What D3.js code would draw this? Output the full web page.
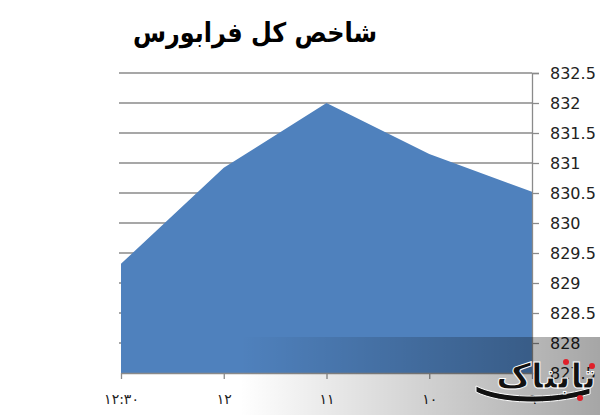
<!DOCTYPE html>
<html><head><meta charset="utf-8">
<script src="https://cdn.jsdelivr.net/npm/d3@7"></script>
<style>body{margin:0;background:#fff}svg{display:block}</style>
</head><body>
<svg id="c" width="600" height="415"></svg>
<script>
const categories = ["۹", "۱۰", "۱۱", "۱۲", "۱۲:۳۰"];
const values = [830.52, 831.15, 832.0, 830.92, 829.32];
const yTicks = [827.5, 828, 828.5, 829, 829.5, 830, 830.5, 831, 831.5, 832, 832.5];
const title = "شاخص کل فرابورس";

const svg = d3.select("#c");
const x = d3.scalePoint().domain(categories).range([532, 121]);
const y = d3.scaleLinear().domain([827.5, 832.5]).range([373, 73]);

// gridlines
svg.append("g").selectAll("line").data(yTicks.slice(1)).join("line")
  .attr("x1", 119).attr("x2", 532)
  .attr("y1", d => y(d)).attr("y2", d => y(d))
  .attr("stroke", "#8a8a8a").attr("stroke-width", 1.3);

// area
const data = categories.map((c, i) => ({c, v: values[i]}));
svg.append("path").datum(data)
  .attr("d", d3.area().x(d => x(d.c)).y0(y(827.5)).y1(d => y(d.v)))
  .attr("fill", "#4f81bd");

// right axis
const ya = svg.append("g").attr("transform", "translate(532,0)")
  .call(d3.axisRight(y).tickValues(yTicks).tickSize(7).tickPadding(11).tickFormat(d => d3.format("")(d)));
ya.select(".domain").attr("stroke", "#8a8a8a").attr("stroke-width", 1.3);
ya.selectAll(".tick line").attr("stroke", "#8a8a8a").attr("stroke-width", 1.3);
ya.selectAll("text").attr("font-family", "DejaVu Sans").attr("font-size", 16).attr("fill", "#222");

// bottom axis
const xa = svg.append("g").attr("transform", "translate(0,373)")
  .call(d3.axisBottom(x).tickSize(6).tickPadding(15).tickSizeOuter(0));
xa.select(".domain").attr("stroke", "#8a8a8a").attr("stroke-width", 1.3);
xa.selectAll(".tick line").attr("stroke", "#8a8a8a").attr("stroke-width", 1.3);
xa.selectAll("text").attr("font-family", "DejaVu Sans").attr("font-size", 14).attr("fill", "#222");

// title
svg.append("text").attr("x", 255).attr("y", 42).attr("text-anchor", "middle")
  .attr("font-family", "DejaVu Sans").attr("font-weight", "bold").attr("font-size", 27)
  .attr("textLength", 244).attr("lengthAdjust", "spacingAndGlyphs")
  .attr("fill", "#000").text(title);

// watermark band
const defs = svg.append("defs");
const g = defs.append("linearGradient").attr("id", "band").attr("x1", 0).attr("x2", 1).attr("y1", 0).attr("y2", 0);
g.append("stop").attr("offset", 0).attr("stop-color", "#000").attr("stop-opacity", 0);
g.append("stop").attr("offset", 0.4).attr("stop-color", "#000").attr("stop-opacity", 0);
g.append("stop").attr("offset", 1).attr("stop-color", "#000").attr("stop-opacity", 0.35);
svg.append("rect").attr("x", 0).attr("y", 337).attr("width", 600).attr("height", 78).attr("fill", "url(#band)");

// logo
svg.append("path").attr("d", "M476,386 C500,398 550,400 590,388 L590,394 C550,406 500,404 476,392 Z")
  .attr("fill", "#111").attr("stroke", "#fff").attr("stroke-width", 1);
svg.append("text").attr("x", 596).attr("y", 388).attr("text-anchor", "end")
  .attr("font-family", "DejaVu Sans").attr("font-weight", "bold").attr("font-size", 34)
  .attr("fill", "#111").attr("stroke", "#fff").attr("stroke-width", 1).text("تابناک");
[[592, 366], [566, 362], [580, 398]].forEach(p => svg.append("circle").attr("cx", p[0]).attr("cy", p[1]).attr("r", 3).attr("fill", "#e0202a"));
</script>
</body></html>
